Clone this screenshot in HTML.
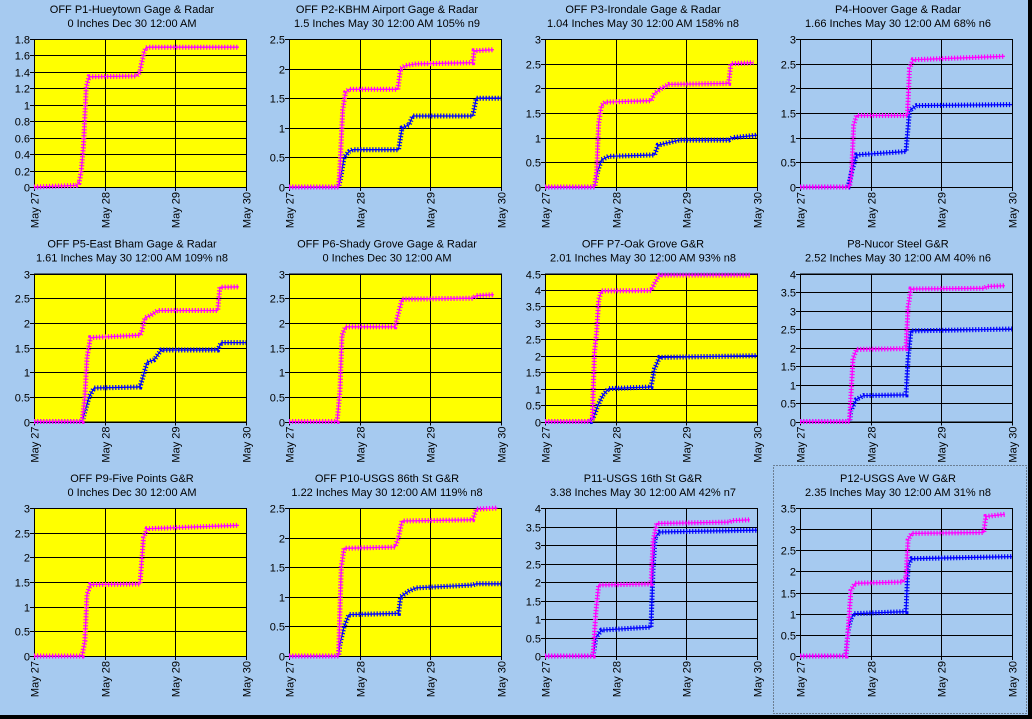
<!DOCTYPE html>
<html><head><meta charset="utf-8"><style>
html,body{margin:0;padding:0;background:#000;}
#wrap{position:relative;width:1032px;height:719px;overflow:hidden;background:#000;}
svg{position:absolute;left:0;top:0;}
text{font-family:"Liberation Sans","DejaVu Sans",sans-serif;font-size:11px;fill:#000;}
</style></head><body>
<div id="wrap">
<svg id="chart" width="1032" height="719"></svg>
</div>
<script>
const titles1 = ["OFF P1-Hueytown Gage & Radar","OFF P2-KBHM Airport Gage & Radar","OFF P3-Irondale Gage & Radar","P4-Hoover Gage & Radar","OFF P5-East Bham Gage & Radar","OFF P6-Shady Grove Gage & Radar","OFF P7-Oak Grove G&R","P8-Nucor Steel G&R","OFF P9-Five Points G&R","OFF P10-USGS 86th St G&R","P11-USGS 16th St G&R","P12-USGS Ave W G&R"];
const titles2 = ["0 Inches Dec 30 12:00 AM","1.5 Inches May 30 12:00 AM 105% n9","1.04 Inches May 30 12:00 AM 158% n8","1.66 Inches May 30 12:00 AM 68% n6","1.61 Inches May 30 12:00 AM 109% n8","0 Inches Dec 30 12:00 AM","2.01 Inches May 30 12:00 AM 93% n8","2.52 Inches May 30 12:00 AM 40% n6","0 Inches Dec 30 12:00 AM","1.22 Inches May 30 12:00 AM 119% n8","3.38 Inches May 30 12:00 AM 42% n7","2.35 Inches May 30 12:00 AM 31% n8"];
const yMax = [1.8,2.5,3,3,3,3,4.5,4,3,2.5,4,3.5];
const yStep = [0.2,0.5,0.5,0.5,0.5,0.5,0.5,0.5,0.5,0.5,0.5,0.5];
const xTicks = ["May 27","May 28","May 29","May 30"];
// pink (radar) series: time in days, cumulative inches
const pinkT = [
[0,0.6,0.64,0.67,0.7,0.74,0.78,1.45,1.5,1.52,1.56,1.58,1.62,2.9],
[0,0.7,0.72,0.76,0.8,0.85,1.54,1.58,1.65,1.8,2.6,2.62,2.9],
[0,0.7,0.73,0.76,0.8,0.85,1.5,1.55,1.65,1.75,2.6,2.63,2.95],
[0,0.7,0.73,0.76,0.8,1.52,1.55,1.6,2.9],
[0,0.68,0.72,0.75,0.8,1.5,1.52,1.57,1.65,1.75,2.6,2.63,2.9],
[0,0.68,0.72,0.75,0.8,1.5,1.55,1.6,2.6,2.65,2.9],
[0,0.63,0.67,0.7,0.73,0.76,0.8,1.5,1.55,1.62,2.9],
[0,0.7,0.75,0.8,1.5,1.53,1.57,2.6,2.65,2.9],
[0,0.68,0.72,0.75,0.8,1.5,1.55,1.6,2.9],
[0,0.7,0.74,0.78,1.5,1.55,1.6,2.6,2.65,2.95],
[0,0.68,0.72,0.76,1.5,1.53,1.58,2.6,2.65,2.9],
[0,0.65,0.68,0.72,0.78,1.45,1.5,1.53,1.58,2.6,2.63,2.9]];
const pinkV = [
[0,0.02,0.05,0.2,0.5,1.22,1.34,1.35,1.4,1.5,1.64,1.69,1.7,1.7],
[0,0,0.3,1.3,1.6,1.65,1.65,2.0,2.05,2.08,2.1,2.3,2.32],
[0,0,0.3,1.3,1.65,1.72,1.75,1.9,2.0,2.08,2.1,2.5,2.52],
[0,0,0.3,1.25,1.45,1.45,2.4,2.58,2.65],
[0,0,0.5,1.3,1.7,1.75,1.8,2.1,2.15,2.25,2.25,2.72,2.73],
[0,0,0.6,1.75,1.92,1.92,2.2,2.48,2.5,2.55,2.57],
[0,0,0.1,2.1,2.7,3.7,3.97,3.98,4.2,4.45,4.45],
[0,0,1.7,1.95,1.97,3.1,3.58,3.6,3.65,3.67],
[0,0,0.3,1.25,1.45,1.46,2.4,2.58,2.65],
[0,0,1.5,1.82,1.84,2.0,2.28,2.3,2.48,2.5],
[0,0,1.2,1.92,1.95,3.1,3.58,3.62,3.66,3.68],
[0,0,0.6,1.55,1.72,1.75,1.85,2.75,2.9,2.92,3.3,3.35]];
// blue (gauge) series
const blueT = [
[],
[0,0.7,0.73,0.78,0.85,0.9,1.55,1.6,1.7,1.75,2.6,2.65,3],
[0,0.7,0.74,0.8,0.9,1.55,1.6,1.75,1.9,2.6,2.65,3],
[0,0.68,0.73,0.8,1.5,1.55,1.65,3],
[0,0.68,0.72,0.78,0.85,1.5,1.6,1.7,1.8,2.6,2.65,3],
[],
[0,0.65,0.7,0.75,0.82,0.9,1.5,1.55,1.62,3],
[0,0.7,0.72,0.8,0.9,1.5,1.53,1.57,3],
[],
[0,0.7,0.72,0.78,0.85,1.55,1.58,1.7,1.8,2.6,2.65,3],
[0,0.68,0.72,0.8,1.5,1.53,1.56,1.62,3],
[0,0.65,0.68,0.72,0.76,1.5,1.53,1.58,3]];
const blueV = [
[],
[0,0,0.15,0.5,0.6,0.63,0.63,1.0,1.05,1.2,1.2,1.5,1.5],
[0,0,0.3,0.55,0.62,0.65,0.85,0.9,0.95,0.95,1.0,1.05],
[0,0,0.3,0.65,0.72,1.55,1.65,1.67],
[0,0,0.2,0.5,0.68,0.7,1.2,1.25,1.45,1.45,1.6,1.6],
[],
[0,0,0.2,0.5,0.8,1.0,1.05,1.6,1.95,2.0],
[0,0,0.3,0.6,0.7,0.72,1.7,2.45,2.5],
[],
[0,0,0.2,0.5,0.7,0.72,1.0,1.1,1.15,1.2,1.22,1.22],
[0,0,0.5,0.7,0.78,2.4,3.2,3.35,3.4],
[0,0,0.6,0.88,1.0,1.05,2.15,2.3,2.35]];
const NS='http://www.w3.org/2000/svg';
const svg=document.getElementById('chart');
function el(tag,attrs,parent){const e=document.createElementNS(NS,tag);for(const k in attrs)e.setAttribute(k,attrs[k]);(parent||svg).appendChild(e);return e;}
const bg=el('rect',{x:0,y:0,width:1028,height:715,fill:'#A6CAF0'});


const yellowPanels=[0,1,2,4,5,6,8,9];
for(let i=0;i<12;i++){
  const col=i%4,row=Math.floor(i/4);
  const L=34+col*255+(col>=2?1:0), T=39+row*234.5, W=212, H=148;
  const g=el('g',{});
  
  
  const cx=L+W/2-8;
  const t1=el('text',{x:cx,y:T-26,'text-anchor':'middle'},g);t1.textContent=titles1[i];
  
  
  const t2=el('text',{x:cx,y:T-12,'text-anchor':'middle'},g);t2.textContent=titles2[i];
  
  
  const pa=el('rect',{x:L,y:T,width:W,height:H,fill:yellowPanels.includes(i)?'#FFFF00':'#A6CAF0'},g);
  
  
  const xs=t=>L+t/3*W, ys=v=>T+H-v/yMax[i]*H;
  const n=Math.round(yMax[i]/yStep[i]);
  for(let k=0;k<=n;k++){
    const v=k*yStep[i],y=Math.round(ys(v))+0.5;
    el('line',{x1:L,x2:L+W,y1:y,y2:y,stroke:'#000','stroke-width':1},g);
    el('line',{x1:L-4,x2:L,y1:y,y2:y,stroke:'#000'},g);
    const tl=el('text',{x:L-4,y:y+4,'text-anchor':'end'},g);tl.textContent=(Math.round(v*10)/10).toString();
    
    
  }
  for(let d=0;d<=3;d++){
    const x=Math.round(xs(d))+0.5;
    el('line',{x1:x,x2:x,y1:T,y2:T+H+4,stroke:'#000'},g);
    const xl=el('text',{x:0,y:0,'text-anchor':'end',transform:`translate(${x+4},${T+H+5}) rotate(-90)`},g);xl.textContent=xTicks[d];
    
    
  }
  el('rect',{x:L+0.5,y:T+0.5,width:W,height:H,fill:'none',stroke:'#000'},g);
  function series(ts,vs,color,name){
    if(!ts.length)return;
    const pts=ts.map((t,k)=>xs(t).toFixed(1)+','+ys(vs[k]).toFixed(1)).join(' ');
    const ln=el('polyline',{points:pts,fill:'none',stroke:color,'stroke-width':1.3},g);
    
    
    const mk=el('polyline',{points:pts,fill:'none',stroke:color,'stroke-width':5,'stroke-dasharray':'1.2 1.8'},g);
    
    
  }
  series(blueT[i],blueV[i],'#0000FF','gauge-series');
  series(pinkT[i],pinkV[i],'#FF00FF','radar-series');
}
const db=el('rect',{x:773.5,y:465.5,width:253,height:248,fill:'none',stroke:'#333','stroke-dasharray':'1 2'});


</script>
</body></html>
